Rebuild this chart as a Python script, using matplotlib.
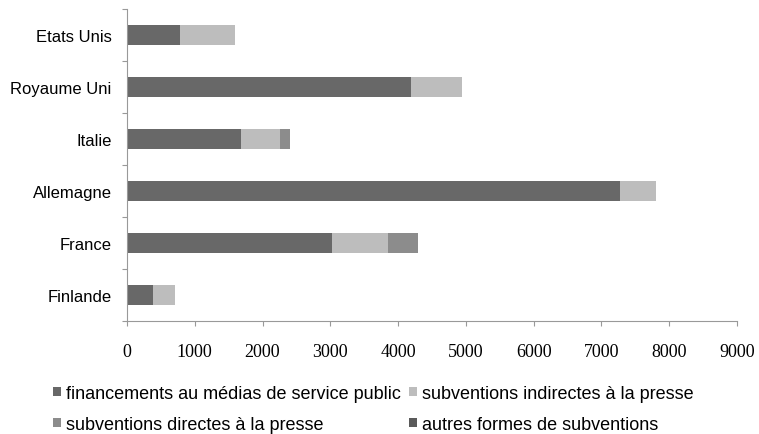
import matplotlib
matplotlib.use("Agg")
import matplotlib.pyplot as plt
from matplotlib.patches import Patch
import numpy as np

countries = ["Finlande", "France", "Allemagne", "Italie", "Royaume Uni", "Etats Unis"]
public_media = [385, 3020, 7270, 1680, 4190, 780]
indirect_press = [325, 830, 530, 570, 750, 810]
direct_press = [0, 440, 0, 150, 0, 0]
other_forms = [0, 0, 0, 0, 0, 0]
series_names = ["financements au médias de service public",
                "subventions indirectes à la presse",
                "subventions directes à la presse",
                "autres formes de subventions"]
xticks = [0, 1000, 2000, 3000, 4000, 5000, 6000, 7000, 8000, 9000]

colors = ["#686868", "#bdbdbd", "#8c8c8c", "#5a5a5a"]
sans = ["Liberation Sans", "DejaVu Sans"]

fig = plt.figure(figsize=(7.59, 4.35), dpi=100)
ax = fig.add_axes([127/759, 1 - 322/435, 610/759, 312/435])

y = np.arange(len(countries))
left = np.zeros(len(countries))
for vals, c in zip([public_media, indirect_press, direct_press, other_forms], colors):
    v = np.array(vals, dtype=float)
    ax.barh(y, v, left=left, height=0.4, color=c, edgecolor="none")
    left += v

ax.set_xlim(0, 9000)
ax.set_ylim(-0.5, len(countries) - 0.5)
ax.set_xticks(xticks)
ax.set_xticklabels([str(t) for t in xticks], family=["Liberation Serif", "DejaVu Serif"], fontsize=13)
ax.set_yticks(y)
ax.set_yticklabels(countries, family=sans, fontsize=12)
ax.set_yticks(np.arange(len(countries) + 1) - 0.5, minor=True)
ax.tick_params(axis="y", which="major", length=0, pad=11)
ax.tick_params(axis="y", which="minor", length=3.5, color="#999999", width=0.8)
ax.tick_params(axis="x", length=3.5, color="#999999", width=0.8, pad=12.5)
for s in ["top", "right"]:
    ax.spines[s].set_visible(False)
for s in ["left", "bottom"]:
    ax.spines[s].set_color("#999999")
    ax.spines[s].set_linewidth(0.8)

# legend filled row by row: matplotlib fills columns first, so reorder
order = [0, 2, 1, 3]
handles = [Patch(facecolor=colors[i], edgecolor="none") for i in order]
labels = [series_names[i] for i in order]
leg_size = 13
hs = 5.8 / leg_size
leg = fig.legend(handles, labels, loc="lower left", bbox_to_anchor=(44/759, -8/435),
                 ncol=2, frameon=False,
                 prop={"family": sans, "size": leg_size},
                 handlelength=hs, handleheight=hs, handletextpad=0.28,
                 columnspacing=0.45, labelspacing=0.78, borderaxespad=0.1)
fig.savefig("out.png", dpi=100)
